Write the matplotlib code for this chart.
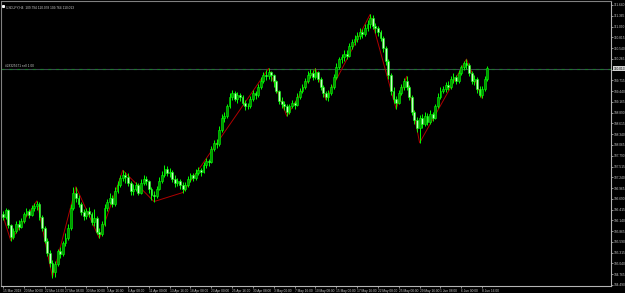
import matplotlib
matplotlib.use('Agg')
import matplotlib.pyplot as plt
import numpy as np

# USDJPY; one candle here = two H4 bars
first_open = 106.30
closes = [106.22, 106.40, 106.02, 105.72, 105.88, 106.05, 105.98, 106.12, 106.30, 106.38,
          106.28, 106.45, 106.50, 106.56, 106.22, 105.95, 105.62, 105.30, 105.05, 104.82,
          105.02, 105.35, 105.28, 105.55, 105.70, 105.95, 106.45, 106.85, 106.70, 106.55,
          106.35, 106.25, 106.38, 106.30, 106.10, 106.20, 105.85, 105.80, 106.05, 106.45,
          106.60, 106.72, 106.55, 106.90, 107.05, 107.22, 107.30, 107.25, 107.10, 106.90,
          106.95, 107.05, 106.85, 107.10, 107.20, 107.15, 106.95, 106.80, 106.75, 106.95,
          107.15, 107.30, 107.45, 107.35, 107.38, 107.20, 107.10, 107.15, 107.05, 106.95,
          107.05, 107.20, 107.30, 107.22, 107.35, 107.42, 107.38, 107.55, 107.65, 107.62,
          107.95, 108.12, 108.10, 108.45, 108.75, 108.80, 109.05, 109.30, 109.40, 109.25,
          109.35, 109.28, 109.15, 109.05, 109.05, 109.25, 109.40, 109.35, 109.55, 109.70,
          109.85, 109.82, 109.92, 109.85, 109.70, 109.45, 109.20, 109.10, 109.05, 108.90,
          109.05, 109.15, 109.08, 109.30, 109.45, 109.55, 109.70, 109.85, 109.90, 109.80,
          109.92, 109.75, 109.55, 109.40, 109.30, 109.40, 109.55, 109.80, 110.05, 110.25,
          110.30, 110.40, 110.35, 110.60, 110.70, 110.78, 110.85, 110.95, 110.90, 111.05,
          111.15, 111.30, 111.10, 111.05, 110.95, 110.80, 110.55, 110.20, 109.85, 109.45,
          109.25, 109.15, 109.40, 109.55, 109.70, 109.55, 109.30, 108.90, 108.70, 108.50,
          108.75, 108.60, 108.80, 108.65, 108.85, 108.75, 109.05, 109.30, 109.45, 109.50,
          109.60, 109.55, 109.75, 109.80, 109.70, 109.90, 110.05, 110.15, 110.10, 109.90,
          109.70, 109.75, 109.50, 109.35, 109.50, 109.75, 110.02]
highs = [106.38, 106.46, 106.42, 106.05, 105.95, 106.12, 106.15, 106.20, 106.36, 106.45,
         106.44, 106.52, 106.58, 106.64, 106.60, 106.28, 106.00, 105.70, 105.38, 105.12,
         105.10, 105.42, 105.45, 105.62, 105.82, 106.05, 106.55, 106.98, 107.00, 106.78,
         106.60, 106.42, 106.45, 106.48, 106.35, 106.42, 106.25, 105.95, 106.12, 106.55,
         106.68, 106.85, 106.80, 107.00, 107.15, 107.30, 107.42, 107.38, 107.35, 107.15,
         107.08, 107.12, 107.10, 107.20, 107.30, 107.28, 107.18, 107.00, 106.90, 107.02,
         107.25, 107.40, 107.55, 107.52, 107.48, 107.42, 107.30, 107.22, 107.20, 107.12,
         107.12, 107.28, 107.35, 107.35, 107.45, 107.50, 107.48, 107.62, 107.72, 107.70,
         108.05, 108.20, 108.22, 108.55, 108.85, 108.90, 109.12, 109.38, 109.48, 109.45,
         109.42, 109.40, 109.35, 109.22, 109.15, 109.32, 109.48, 109.45, 109.62, 109.80,
         109.92, 109.98, 110.02, 109.95, 109.88, 109.72, 109.48, 109.28, 109.18, 109.10,
         109.12, 109.22, 109.20, 109.38, 109.52, 109.62, 109.78, 109.95, 110.00, 109.98,
         110.02, 109.95, 109.80, 109.60, 109.45, 109.48, 109.62, 109.88, 110.15, 110.32,
         110.40, 110.48, 110.48, 110.68, 110.78, 110.88, 110.95, 111.05, 111.02, 111.15,
         111.25, 111.40, 111.38, 111.18, 111.10, 111.00, 110.85, 110.60, 110.25, 109.90,
         109.55, 109.32, 109.48, 109.62, 109.78, 109.82, 109.60, 109.35, 108.95, 108.78,
         108.82, 108.85, 108.90, 108.88, 108.95, 108.92, 109.12, 109.40, 109.55, 109.58,
         109.68, 109.70, 109.82, 109.90, 109.85, 109.98, 110.12, 110.22, 110.26, 110.15,
         109.95, 109.85, 109.80, 109.58, 109.58, 109.82, 110.08]
lows = [106.15, 106.18, 105.95, 105.62, 105.66, 105.82, 105.90, 105.94, 106.08, 106.25,
        106.20, 106.24, 106.38, 106.40, 106.15, 105.88, 105.55, 105.22, 104.95, 104.68,
        104.70, 104.98, 105.18, 105.22, 105.48, 105.65, 105.90, 106.40, 106.60, 106.48,
        106.28, 106.15, 106.18, 106.22, 106.02, 106.00, 105.78, 105.68, 105.75, 106.00,
        106.38, 106.55, 106.48, 106.50, 106.85, 107.00, 107.15, 107.10, 107.02, 106.80,
        106.78, 106.88, 106.78, 106.82, 107.05, 107.05, 106.85, 106.65, 106.62, 106.70,
        106.92, 107.10, 107.25, 107.28, 107.25, 107.12, 107.00, 107.02, 106.95, 106.85,
        106.90, 107.00, 107.12, 107.15, 107.18, 107.30, 107.28, 107.35, 107.48, 107.52,
        107.60, 107.90, 108.00, 108.05, 108.40, 108.65, 108.75, 109.00, 109.22, 109.18,
        109.15, 109.20, 109.08, 108.95, 108.98, 109.00, 109.20, 109.25, 109.30, 109.50,
        109.65, 109.72, 109.75, 109.70, 109.55, 109.38, 109.12, 109.00, 108.95, 108.80,
        108.85, 109.00, 108.98, 109.05, 109.25, 109.38, 109.50, 109.65, 109.78, 109.72,
        109.75, 109.68, 109.48, 109.30, 109.22, 109.20, 109.35, 109.50, 109.75, 110.00,
        110.15, 110.22, 110.25, 110.32, 110.52, 110.62, 110.70, 110.78, 110.80, 110.85,
        110.98, 111.05, 111.02, 110.92, 110.85, 110.72, 110.45, 110.10, 109.75, 109.35,
        109.15, 108.98, 109.10, 109.35, 109.48, 109.48, 109.22, 108.82, 108.60, 108.40,
        108.12, 108.50, 108.55, 108.58, 108.60, 108.68, 108.72, 109.00, 109.25, 109.38,
        109.42, 109.48, 109.50, 109.65, 109.62, 109.65, 109.85, 109.98, 110.00, 109.82,
        109.62, 109.60, 109.40, 109.28, 109.26, 109.45, 109.70]

# ZigZag pivots (candle index, price)
zz_bar = [0, 3, 13, 19, 28, 37, 46, 58, 69, 102, 109, 120, 124, 141, 151, 155, 160, 178, 184]
zz_price = [106.25, 105.62, 106.64, 104.68, 107.00, 105.68, 107.42, 106.62, 106.85, 110.02,
            108.80, 110.02, 109.22, 111.40, 108.98, 109.82, 108.12, 110.26, 109.26]

date_labels = ['15 Mar 2018', '20 Mar 00:00', '22 Mar 16:00', '27 Mar 08:00', '30 Mar 00:00',
               '3 Apr 16:00', '6 Apr 08:00', '11 Apr 00:00', '13 Apr 16:00', '18 Apr 08:00',
               '23 Apr 00:00', '25 Apr 16:00', '30 Apr 08:00', '3 May 00:00', '7 May 16:00',
               '10 May 08:00', '15 May 00:00', '17 May 16:00', '22 May 08:00', '25 May 00:00',
               '29 May 16:00', '1 Jun 08:00', '6 Jun 00:00', '8 Jun 16:00']
price_ticks = [111.640, 111.365, 111.090, 110.815, 110.540, 110.265, 109.990, 109.715,
               109.440, 109.165, 108.890, 108.615, 108.340, 108.065, 107.790, 107.515,
               107.240, 106.965, 106.690, 106.415, 106.140, 105.865, 105.590, 105.315,
               105.040, 104.765, 104.490]

bid = 110.013
order_price = 110.010
order_text = '#28325671 sell 1.00'
header = 'USDJPY,H4  109.794 110.078 109.764 110.013'


def main():
    plt.rcParams['font.family'] = 'Liberation Sans'
    fg = '#c8c8c8'
    fs = 2.3

    fig = plt.figure(figsize=(6.25, 2.93), dpi=100, facecolor='black')
    ax = fig.add_axes([1/625, 7/293, 610/625, 285/293], facecolor='black')

    c = np.array(closes)
    h = np.array(highs)
    l = np.array(lows)
    o = np.concatenate([[first_open], c[:-1]])
    x = np.arange(len(c))
    up = c >= o

    # zigzag under the candles
    ax.plot(zz_bar, zz_price, color='#b00000', lw=0.7, zorder=2)

    ax.vlines(x, l, h, color='#00ff00', lw=0.7, zorder=3)
    body = np.maximum(np.abs(c - o), 0.02)
    bot = np.minimum(c, o)
    ax.bar(x[up], body[up], bottom=bot[up], width=0.7, color='#009600',
           edgecolor='#00ff00', lw=0.4, zorder=4)
    ax.bar(x[~up], body[~up], bottom=bot[~up], width=0.7, color='#c8ffc8',
           edgecolor='#00ff00', lw=0.4, zorder=4)

    # bid line + order level
    ax.axhline(bid, color='#3e4852', lw=0.8, zorder=1)
    ax.axhline(order_price, color='#1c7a2c', lw=0.8, ls=(0, (3, 4)), zorder=1)
    ax.text(0.6, order_price + 0.03, order_text, color=fg, fontsize=fs,
            ha='left', va='bottom', zorder=6)

    ax.set_xlim(-0.77, 233.5)
    ax.set_ylim(104.464, 111.742)

    # the bid box on the scale hides the tick label under it
    ylabels = ['' if abs(p - bid) < 0.1 else f'{p:.3f}' for p in price_ticks]
    ax.yaxis.tick_right()
    ax.set_yticks(price_ticks)
    ax.set_yticklabels(ylabels)
    ax.tick_params(axis='y', length=1.5, width=0.5, colors=fg, labelsize=fs, pad=0.6)

    ax.set_xticks(np.arange(len(date_labels)) * 8)
    ax.set_xticklabels(date_labels, ha='left')
    ax.tick_params(axis='x', length=1.5, width=0.5, colors=fg, labelsize=fs, pad=0.4)

    for s in ['right', 'bottom']:
        ax.spines[s].set_color('#b4b4b4')
        ax.spines[s].set_linewidth(0.8)
    for s in ['left', 'top']:
        ax.spines[s].set_color('#808080')
        ax.spines[s].set_linewidth(0.8)

    # current price box on the scale
    ax.text(1.0045, (bid - 104.464) / (111.742 - 104.464), f'{bid:.3f}',
            transform=ax.transAxes, fontsize=fs, color='black', ha='left', va='center',
            bbox=dict(boxstyle='square,pad=0.15', fc='#d0d0d0', ec='none'), zorder=7,
            clip_on=False)

    ax.text(0.009, 0.985, header, transform=ax.transAxes, color=fg, fontsize=fs,
            ha='left', va='top')
    ax.plot([0.003], [0.982], marker='s', ms=1.2, color='white',
            transform=ax.transAxes, clip_on=False)

    fig.savefig('out.png', dpi=100, facecolor='black')


if __name__ == '__main__':
    main()
